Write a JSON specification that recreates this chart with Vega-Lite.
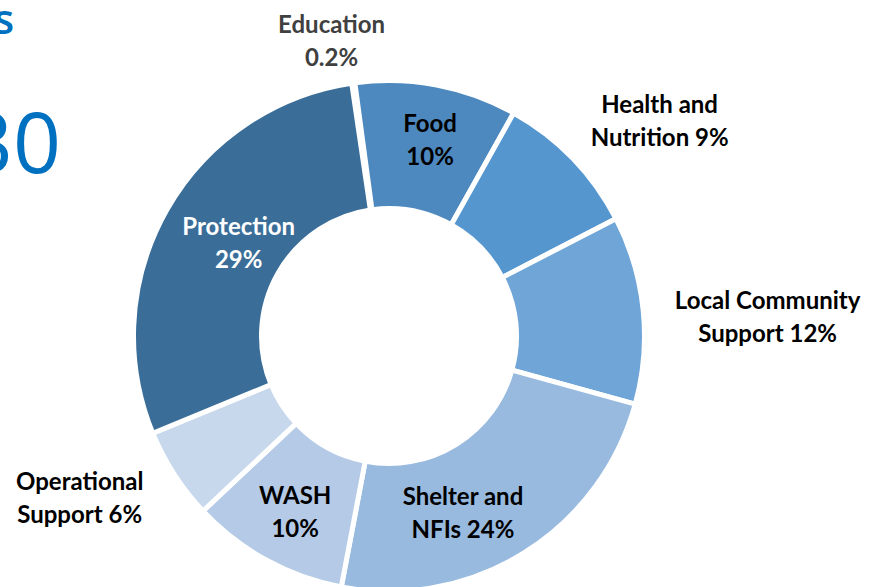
{
  "$schema": "https://vega.github.io/schema/vega-lite/v6.json",
  "width": 778,
  "height": 502,
  "autosize": {"type": "none"},
  "padding": {"left": 0, "top": 85, "right": 98, "bottom": 0},
  "background": "white",
  "config": {"view": {"stroke": null}, "text": {"font": "Lato", "fontWeight": "bold", "fontSize": 24, "lineHeight": 33, "dy": -16.5}},
  "title": {
    "text": "\u200b\u00a0\u00a0\u2009s",
    "subtitle": "30",
    "anchor": "start",
    "frame": "group",
    "orient": "top",
    "dx": -35,
    "offset": -261,
    "font": "Open Sans",
    "fontSize": 42,
    "fontWeight": 600,
    "color": "#0070C0",
    "subtitleFont": "Open Sans",
    "subtitleFontSize": 84,
    "subtitleFontWeight": 400,
    "subtitleColor": "#0070C0",
    "subtitlePadding": 64
  },
  "data": {
    "values": [
      {"rank": 1, "category": "Education", "value": 0.2, "label": ["Education", "0.2%"]},
      {"rank": 2, "category": "Food", "value": 10.25, "label": ["Food", "10%"]},
      {"rank": 3, "category": "Health and Nutrition", "value": 9.3, "label": ["Health and", "Nutrition 9%"]},
      {"rank": 4, "category": "Local Community Support", "value": 11.9, "label": ["Local Community", "Support 12%"]},
      {"rank": 5, "category": "Shelter and NFIs", "value": 23.7, "label": ["Shelter and", "NFIs 24%"]},
      {"rank": 6, "category": "WASH", "value": 10.0, "label": ["WASH", "10%"]},
      {"rank": 7, "category": "Operational Support", "value": 5.8, "label": ["Operational", "Support 6%"]},
      {"rank": 8, "category": "Protection", "value": 28.9, "label": ["Protection", "29%"]}
    ]
  },
  "encoding": {
    "theta": {"field": "value", "type": "quantitative", "stack": true, "scale": {"range": [-0.1466, 6.1366]}},
    "order": {"field": "rank", "type": "quantitative"}
  },
  "layer": [
    {
      "mark": {"type": "arc", "outerRadius": 255.5, "innerRadius": 127.5, "stroke": "white", "strokeWidth": 5},
      "encoding": {
        "color": {
          "field": "category",
          "type": "nominal",
          "legend": null,
          "scale": {
            "domain": ["Education", "Food", "Health and Nutrition", "Local Community Support", "Shelter and NFIs", "WASH", "Operational Support", "Protection"],
            "range": ["#2E5A82", "#4D89BE", "#5596CF", "#70A5D7", "#98BADF", "#B4CAE6", "#C7D8ED", "#3A6E99"]
          }
        }
      }
    },
    {
      "mark": {"type": "text", "radius": 299, "thetaOffset": -0.053, "color": "#404040"},
      "encoding": {"text": {"condition": {"test": "datum.category === 'Education'", "field": "label"}, "value": ""}}
    },
    {
      "mark": {"type": "text", "radius": 199, "thetaOffset": 0.02, "color": "#000000"},
      "encoding": {"text": {"condition": {"test": "datum.category === 'Food'", "field": "label"}, "value": ""}}
    },
    {
      "mark": {"type": "text", "radius": 345, "thetaOffset": 0.1, "color": "#000000"},
      "encoding": {"text": {"condition": {"test": "datum.category === 'Health and Nutrition'", "field": "label"}, "value": ""}}
    },
    {
      "mark": {"type": "text", "radius": 379, "thetaOffset": 0.058, "color": "#000000"},
      "encoding": {"text": {"condition": {"test": "datum.category === 'Local Community Support'", "field": "label"}, "value": ""}}
    },
    {
      "mark": {"type": "text", "radius": 193, "thetaOffset": 0.163, "color": "#000000"},
      "encoding": {"text": {"condition": {"test": "datum.category === 'Shelter and NFIs'", "field": "label"}, "value": ""}}
    },
    {
      "mark": {"type": "text", "radius": 201, "thetaOffset": -0.016, "color": "#000000"},
      "encoding": {"text": {"condition": {"test": "datum.category === 'WASH'", "field": "label"}, "value": ""}}
    },
    {
      "mark": {"type": "text", "radius": 350, "thetaOffset": 0.086, "color": "#000000"},
      "encoding": {"text": {"condition": {"test": "datum.category === 'Operational Support'", "field": "label"}, "value": ""}}
    },
    {
      "mark": {"type": "text", "radius": 176, "thetaOffset": 0.03, "color": "#FFFFFF"},
      "encoding": {"text": {"condition": {"test": "datum.category === 'Protection'", "field": "label"}, "value": ""}}
    }
  ]
}
